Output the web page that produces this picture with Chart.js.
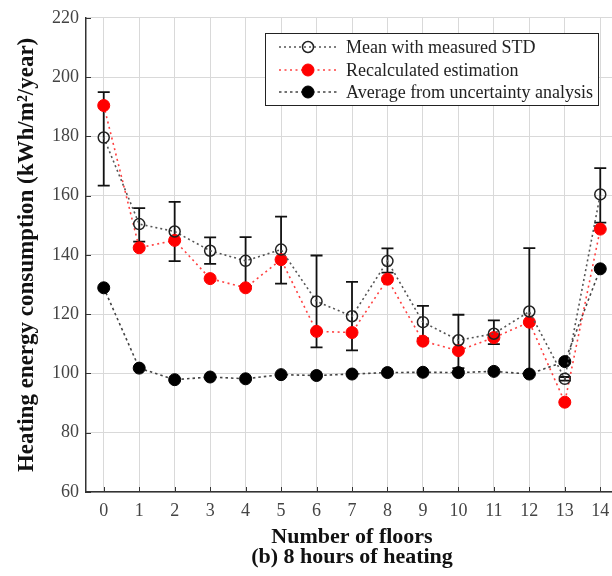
<!DOCTYPE html>
<html>
<head>
<meta charset="utf-8">
<script src="https://cdn.jsdelivr.net/npm/chart.js@4.4.1/dist/chart.umd.min.js"></script>
<style>
html,body{margin:0;padding:0;background:#fff;overflow:hidden;width:612px;height:576px;}
canvas{display:block;}
</style>
</head>
<body>
<canvas id="c" width="640" height="576"></canvas>
<script>
// ---- data ----
const floors = [0,1,2,3,4,5,6,7,8,9,10,11,12,13,14];
const meanMeasured = [179.6,150.4,147.9,141.4,138.0,141.8,124.3,119.3,137.9,117.3,111.2,113.4,120.9,98.2,160.4];
const stdUpper    = [194.9,155.8,157.9,145.9,146.0,152.9,139.8,130.9,142.2,122.8,119.8,117.9,142.3,98.8,169.3];
const stdLower    = [163.4,144.5,137.9,137.0,129.5,130.3,108.8,107.8,134.0,111.8,101.8,109.9,99.6,97.6,150.9];
const recalculated = [190.4,142.4,144.9,132.0,128.9,138.4,114.2,113.8,131.8,110.9,107.7,112.1,117.3,90.3,148.7];
const uncertaintyAvg = [128.9,101.8,97.9,98.8,98.2,99.6,99.3,99.8,100.3,100.4,100.3,100.7,99.8,104.0,135.3];
const yTicks = [60,80,100,120,140,160,180,200,220];
const seriesLabels = ['Mean with measured STD','Recalculated estimation','Average from uncertainty analysis'];

const SERIF = '"Liberation Serif","Times New Roman",serif';
const toPts = arr => floors.map((f,i)=>({x:f,y:arr[i]}));

const errorBars = {
  id:'errorBars',
  beforeDatasetsDraw(chart){
    const {ctx, scales:{x,y}} = chart;
    ctx.save();
    ctx.strokeStyle = '#111';
    ctx.lineWidth = 1.8;
    floors.forEach((f,i)=>{
      const px = x.getPixelForValue(f);
      const yt = y.getPixelForValue(stdUpper[i]);
      const yb = y.getPixelForValue(stdLower[i]);
      ctx.beginPath();
      ctx.moveTo(px,yt); ctx.lineTo(px,yb);
      ctx.moveTo(px-6,yt); ctx.lineTo(px+6,yt);
      ctx.moveTo(px-6,yb); ctx.lineTo(px+6,yb);
      ctx.stroke();
    });
    ctx.restore();
  }
};

const decorations = {
  id:'decorations',
  afterDraw(chart){
    const {ctx, scales:{x,y}, chartArea:a} = chart;
    ctx.save();
    // inward tick marks
    ctx.strokeStyle = '#333'; ctx.lineWidth = 1;
    yTicks.forEach(v=>{
      const py = Math.round(y.getPixelForValue(v))+0.5;
      ctx.beginPath(); ctx.moveTo(a.left,py); ctx.lineTo(a.left+5,py); ctx.stroke();
    });
    floors.forEach(f=>{
      const px = Math.round(x.getPixelForValue(f))+0.5;
      ctx.beginPath(); ctx.moveTo(px,a.bottom); ctx.lineTo(px,a.bottom-5); ctx.stroke();
    });
    // legend
    const bx=265.5, by=33.5, bw=333, bh=72;
    ctx.fillStyle='#fff'; ctx.fillRect(bx,by,bw,bh);
    ctx.strokeStyle='#222'; ctx.lineWidth=1; ctx.strokeRect(bx,by,bw,bh);
    const rows=[47,70,92];
    chart.data.datasets.forEach((ds,i)=>{
      const ry=rows[i];
      ctx.save();
      ctx.strokeStyle=ds.borderColor; ctx.lineWidth=ds.borderWidth;
      ctx.setLineDash(ds.borderDash);
      ctx.beginPath(); ctx.moveTo(279,ry); ctx.lineTo(337,ry); ctx.stroke();
      ctx.restore();
      ctx.beginPath(); ctx.arc(308,ry,ds.pointRadius,0,Math.PI*2);
      ctx.fillStyle=ds.pointBackgroundColor; ctx.fill();
      ctx.lineWidth=ds.pointBorderWidth; ctx.strokeStyle=ds.pointBorderColor; ctx.stroke();
      ctx.fillStyle='#222'; ctx.font='18px '+SERIF; ctx.textBaseline='middle'; ctx.textAlign='left';
      ctx.fillText(ds.label,346,ry+1);
    });
    ctx.restore();
  }
};

new Chart(document.getElementById('c'),{
  type:'line',
  data:{datasets:[
    {label:seriesLabels[0], data:toPts(meanMeasured), borderColor:'#555', borderWidth:1.6, borderDash:[2,3],
     pointRadius:5.5, pointBackgroundColor:'rgba(255,255,255,0)', pointBorderColor:'#222', pointBorderWidth:1.5},
    {label:seriesLabels[1], data:toPts(recalculated), borderColor:'#ff4040', borderWidth:1.6, borderDash:[2,3.5],
     pointRadius:6, pointBackgroundColor:'#ff0000', pointBorderColor:'#ff0000', pointBorderWidth:1},
    {label:seriesLabels[2], data:toPts(uncertaintyAvg), borderColor:'#444', borderWidth:1.6, borderDash:[2.5,3],
     pointRadius:6, pointBackgroundColor:'#000', pointBorderColor:'#000', pointBorderWidth:1}
  ]},
  options:{
    responsive:false, animation:false, devicePixelRatio:1,
    layout:{padding:{top:12,right:22,left:0,bottom:0}},
    plugins:{legend:{display:false}, tooltip:{enabled:false}},
    elements:{line:{tension:0}},
    scales:{
      x:{type:'linear', min:-0.5, max:14.5,
         afterBuildTicks:s=>{s.ticks=floors.map(v=>({value:v}));},
         afterFit:s=>{s.height=84;},
         grid:{color:'#d9d9d9', drawTicks:false},
         border:{color:'#333', width:1.5},
         ticks:{padding:8, color:'#444', font:{family:SERIF,size:18}, callback:v=>String(v)},
         title:{display:true, text:['Number of floors','(b) 8 hours of heating'], color:'#111',
                font:{family:SERIF,size:22,weight:'bold',lineHeight:0.91}, padding:{top:0,bottom:9}}
      },
      y:{type:'linear', min:60, max:220,
         afterBuildTicks:s=>{s.ticks=yTicks.map(v=>({value:v}));},
         afterFit:s=>{s.width=86;},
         grid:{color:'#d9d9d9', drawTicks:false},
         border:{color:'#333', width:1.5},
         ticks:{padding:7, color:'#444', font:{family:SERIF,size:18}},
         title:{display:true, text:'Heating energy consumption (kWh/m\u00B2/year)', color:'#111',
                font:{family:SERIF,size:23,weight:'bold',lineHeight:1}, padding:{top:16,bottom:0}}
      }
    }
  },
  plugins:[errorBars, decorations]
});
</script>
</body>
</html>
